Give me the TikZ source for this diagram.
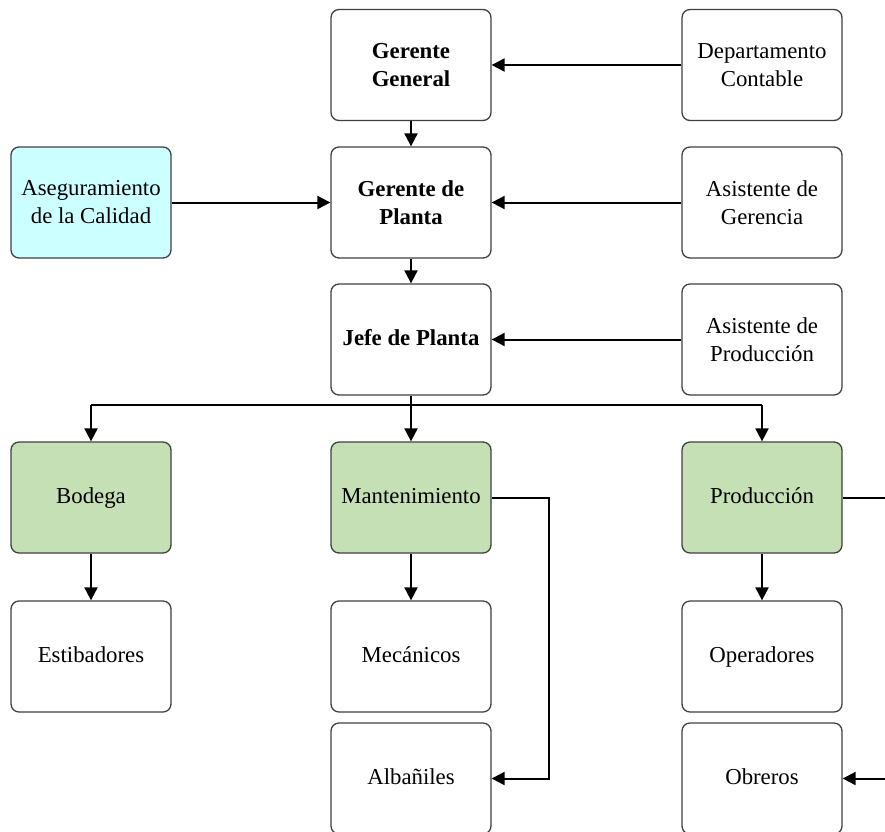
\documentclass[tikz,border=0pt]{standalone}
\usepackage{fontspec}
\setmainfont{Liberation Serif}
\usetikzlibrary{arrows.meta}
\definecolor{qacyan}{HTML}{CCFFFF}
\definecolor{deptgreen}{HTML}{C5E0B4}
\definecolor{boxline}{HTML}{404040}
\begin{document}
\begin{tikzpicture}[x=1pt,y=-1pt,
  box/.style={draw=boxline,line width=1.3pt,rounded corners=8pt,fill=white,
    minimum width=160pt,minimum height=111pt,align=center,inner sep=2pt,
    font=\fontsize{22.8}{28}\selectfont},
  qa/.style={box,fill=qacyan},
  dept/.style={box,fill=deptgreen},
  link/.style={line width=2pt,-{Triangle[length=13pt,width=13pt]}},
  plain/.style={line width=2pt}]
\useasboundingbox (0,0) rectangle (885,831);
\clip (0,0) rectangle (885,831);
% top management column
\node[box] (gg) at (411,65) {\textbf{Gerente}\\\textbf{General}};
\node[box] (gp) at (411,202.5) {\textbf{Gerente de}\\\textbf{Planta}};
\node[box] (jp) at (411,339.5) {\strut\textbf{Jefe de Planta}};
% staff boxes
\node[box] (dc) at (762,65) {Departamento\\Contable};
\node[box] (ag) at (762,202.5) {Asistente de\\Gerencia};
\node[box] (ap) at (762,339.5) {Asistente de\\Producción};
\node[qa] (qa) at (91,202.5) {Aseguramiento\\de la Calidad};
% departments
\node[dept] (bod) at (91,497.5) {\strut Bodega};
\node[dept] (man) at (411,497.5) {\strut Mantenimiento};
\node[dept] (pro) at (762,497.5) {\strut Producción};
% workers
\node[box] (est) at (91,656.5) {\strut Estibadores};
\node[box] (mec) at (411,656.5) {\strut Mecánicos};
\node[box] (alb) at (411,778.5) {\strut Albañiles};
\node[box] (ope) at (762,656.5) {\strut Operadores};
\node[box] (obr) at (762,778.5) {\strut Obreros};
% chain of command
\draw[link] (gg) -- (gp);
\draw[link] (gp) -- (jp);
\draw[link] (dc) -- (gg);
\draw[link] (ag) -- (gp);
\draw[link] (ap) -- (jp);
\draw[link] (qa) -- (gp);
% distribution bus below the plant chief
\coordinate (bus) at (411,405);
\draw[plain] (jp.south) -- (bus);
\draw[plain] (bod.north |- bus) -- (pro.north |- bus);
\draw[link] (bus) -- (man.north);
\draw[link] (bod.north |- bus) -- (bod.north);
\draw[link] (pro.north |- bus) -- (pro.north);
% departments to workers
\draw[link] (bod) -- (est);
\draw[link] (man) -- (mec);
\draw[link] (pro) -- (ope);
\coordinate (mturn) at (549,497.5);
\draw[link] (man.east) -- (mturn) |- (alb.east);
\coordinate (pout) at (890,497.5);
\draw[plain] (pro.east) -- (pout);
\coordinate (oin) at (890,778.5);
\draw[link] (oin) -- (obr.east);
\end{tikzpicture}
\end{document}
